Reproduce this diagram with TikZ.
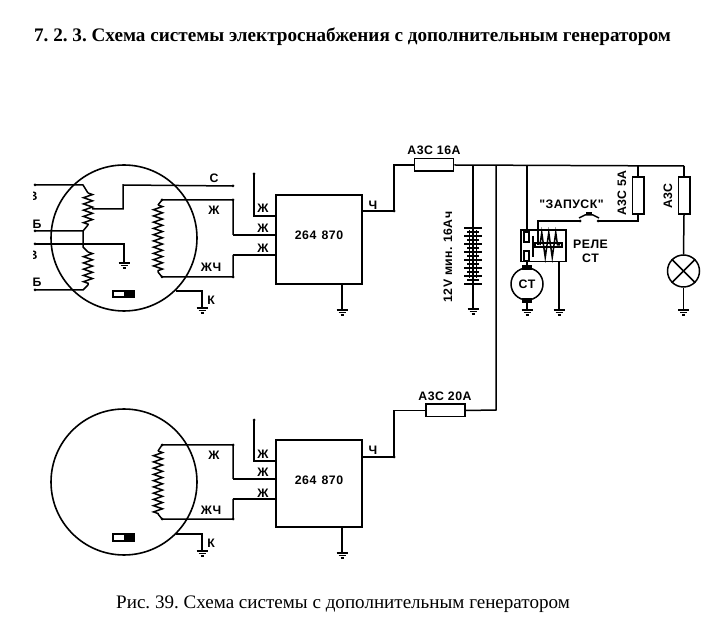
\documentclass[tikz,border=0pt]{standalone}
\usepackage{fontspec}
\setmainfont{Liberation Serif}
\newfontfamily\labelfont[LetterSpace=4]{Liberation Sans}
\usetikzlibrary{decorations.pathmorphing}
\frenchspacing

\tikzset{
wire/.style={black, line width=0.3mm},
coil/.style={wire, decorate, decoration={zigzag, amplitude=0.09cm, segment length=0.125cm}},
relay coil/.style={wire, decorate, decoration={zigzag, amplitude=0.25cm, segment length=0.14cm}},
ctrlbox/.style={draw, line width=0.32mm, minimum width=1.72cm, minimum height=1.77cm, inner sep=0},
fuseh/.style={draw, line width=0.3mm, fill=white, minimum width=0.78cm, minimum height=0.25cm, inner sep=0},
fusev/.style={draw, line width=0.3mm, fill=white, minimum width=0.23cm, minimum height=0.74cm, inner sep=0},
gencircle/.style={circle, draw, line width=0.32mm, minimum size=2.92cm, inner sep=0},
lab/.style={font=\labelfont\bfseries\fontsize{7}{8}\selectfont, inner sep=0},
}

% ground mark and terminal dot
\newcommand{\gndmark}[1]{
\draw[wire] ([xshift=-0.11cm]#1) -- ([xshift=0.11cm]#1);
\draw[wire] ([xshift=-0.07cm,yshift=-0.05cm]#1) -- ([xshift=0.07cm,yshift=-0.05cm]#1);
\draw[wire] ([xshift=-0.03cm,yshift=-0.1cm]#1) -- ([xshift=0.03cm,yshift=-0.1cm]#1);
}
\newcommand{\termdot}[1]{\fill (#1) circle (1.5);}

\begin{document}
\begin{tikzpicture}[x=0.02cm,y=-0.02cm]
\useasboundingbox (0,0) rectangle (716,644);

\node[inner sep=0, font=\bfseries\fontsize{10.9}{12}\selectfont] (title) at (352.5,36.5)
{7. 2. 3. Схема системы электроснабжения с дополнительным генератором};
\node[inner sep=0, font=\fontsize{10.85}{12}\selectfont] (caption) at (343,604.5)
{Рис. 39. Схема системы с дополнительным генератором};

% TOP %
%%%%%%%%%%%%  Main generator %%%%%%%%%%%%%
\node[gencircle] (genA) at (124,238) {};

\coordinate (a1) at (35,185);
\coordinate (a2) at (83,185);
\coordinate (a3) at (88,193);
\coordinate (a4) at (88,225);
\coordinate (a5) at (83,231);
\coordinate (a6) at (35,231);
\coordinate (a7) at (88,252);
\coordinate (a8) at (88,285);
\coordinate (a9) at (83,290);
\coordinate (a10) at (35,290);
\coordinate (a11) at (35,244);
\coordinate (a12) at (124,244);
\coordinate (a13) at (124,263);
\coordinate (tap) at (92,209);
\coordinate (tapUp) at (123,185);
\coordinate (outC) at (233,186);

\draw[wire] (a1) -- (a2) -- (a3);
\draw[coil] (a3) -- (a4);
\draw[wire] (a4) -- (a5) -- (a6);
\draw[wire] (a5) -- (83,247) -- (a7);
\draw[coil] (a7) -- (a8);
\draw[wire] (a8) -- (a9) -- (a10);
\draw[wire] (a11) -- (a12) -- (a13);
\draw[wire] (tap) -| (tapUp) -- (outC);
\foreach \p in {a1,a6,a11,a10,outC}
{\termdot{\p}}
\gndmark{a13}

% left labels, cut by the page edge
\begin{scope}
\clip (33,170) rectangle (60,300);
\node[lab] (lb1) at (33,196) {В};
\node[lab] (lb2) at (37,224) {Б};
\node[lab] (lb3) at (33,255) {В};
\node[lab] (lb4) at (37,282) {Б};
\end{scope}

% right coil
\coordinate (c1) at (162,200);
\coordinate (c2) at (158,205);
\coordinate (c3) at (158,272);
\coordinate (c4) at (162,277);
\coordinate (j1) at (233,200);
\coordinate (j2) at (233,277);
\draw[coil] (c2) -- (c3);
\draw[wire] (c2) -- (c1) -- (j1) -- (233,235) coordinate (j3);
\draw[wire] (c3) -- (c4) -- (j2) -- (233,255) coordinate (j4);
\foreach \p in {c1,c4,j1,j2}
{\termdot{\p}}

% magnet and earth
\draw[wire] (113,291) rectangle (134,297);
\fill (124,291) rectangle (134,297);
\coordinate (k1) at (176,291);
\coordinate (k2) at (202,291);
\coordinate (k3) at (202,308);
\draw[wire] (k1) -- (k2) -- (k3);
\gndmark{k3}

\node[lab] (labC) at (214,178) {С};
\node[lab] (labZ) at (214,210) {Ж};
\node[lab] (labZC) at (211,267) {ЖЧ};
\node[lab] (labK) at (211,300) {К};

%%%%%%%%%%%%  Top regulator %%%%%%%%%%%%%
\node[ctrlbox] (regA) at (319,239.5) {};
\node[lab] (regAtxt) at (319,235) {264\hspace{3pt}870};

\coordinate (r1) at (254,174);
\draw[wire] (r1) |- (regA.west |- 0,216);
\draw[wire] (j3) -- (regA.west |- j3);
\draw[wire] (j4) -- (regA.west |- j4);
\termdot{r1}
\foreach \y [count=\i] in {208,228,248}
\node[lab] (zA\i) at (263,\y) {Ж};
\node[lab] (chA) at (373,205) {Ч};

\coordinate (regAg) at (342,310);
\draw[wire] (regAg |- regA.south) -- (regAg);
\gndmark{regAg}

\coordinate (outA) at (394,211);
\node[fuseh] (fuseA) at (434,165) {};
\node[lab] (fuseAtxt) at (434,150) {А3С 16А};
\draw[wire] (regA.east |- outA) -- (outA) |- (fuseA.west);
\termdot{outA}

%%%%%%%%%%%%  Bus %%%%%%%%%%%%%
\coordinate (busEnd) at (684,166);
\coordinate (busBat) at (473,166);
\coordinate (busB) at (496,166);
\coordinate (busS) at (527,166);
\coordinate (busF) at (638,166);
\draw[wire] (fuseA.east) -- (busEnd);

% battery
\coordinate (batGnd) at (473,309);
\draw[wire] (busBat) -- (batGnd);
\gndmark{batGnd}
\foreach \y in {228,236,244,252,260,268,276,284}
{\draw[wire] (464,\y) -- (482,\y);}
\foreach \y in {232,240,248,256,264,272,280}
{\draw[wire] (467,\y) -- (479,\y);}
\draw[wire] (469.5,230) -- (469.5,278);
\draw[wire] (476.5,230) -- (476.5,278);
\node[lab, rotate=90] (batTxt) at (448,257) {12V мин. 16Ач};

%%%%%%%%%%%%  Starter %%%%%%%%%%%%%
\node[draw, wire, minimum width=0.9cm, minimum height=0.63cm, inner sep=0] (relay) at (543.5,246) {};
\node[circle, draw, wire, minimum size=0.64cm, inner sep=0, font=\labelfont\bfseries\fontsize{7}{8}\selectfont] (motor) at (527,284) {СТ};
\draw[wire] (busS) -- (527,232);
\draw[wire] (524,232) rectangle (529,242);
\draw[wire] (524,251) rectangle (529,261);
\draw[wire] (527,261) -- (motor.north);
\fill (522,265) rectangle (532,270);
\fill (522,298) rectangle (532,303);
\coordinate (motGnd) at (527,310);
\draw[wire] (motor.south) -- (motGnd);
\gndmark{motGnd}

% relay coil on the plunger
\draw[relay coil] (540,245) -- (560,245);
\draw[wire] (535,243) rectangle (562,247);
\draw[line width=0.45mm] (533,236) -- (533,257);
\coordinate (relGnd) at (559,310);
\draw[wire] (relGnd |- relay.south) -- (relGnd);
\gndmark{relGnd}

% start switch
\coordinate (swL) at (580,221);
\coordinate (swR) at (598,221);
\coordinate (swB) at (538,245);
\node[fusev] (fuseS) at (638,195.5) {};
\draw[wire] (busF) -- (fuseS.north);
\draw[wire] (fuseS.south) |- (swR);
\draw[wire] (swL) -| (swB);
\termdot{swL}
\termdot{swR}
\draw[wire] (579,218) -- (585,215) -- (593,215) -- (599,218);
\fill (586,212) rectangle (592,215);

\node[lab] (swTxt) at (571.5,204) {"ЗАПУСК"};
\node[lab, rotate=90] (fuseStxt) at (622,193) {А3С 5А};
\node[lab, align=center] (relayTxt) at (590.5,251) {РЕЛЕ\\СТ};

%%%%%%%%%%%%  Lamp %%%%%%%%%%%%%
\node[fusev] (fuseL) at (684,195.5) {};
\node[lab, rotate=90] (fuseLtxt) at (668,196) {А3С};
\node[circle, draw, wire, minimum size=0.64cm, inner sep=0] (lamp) at (683.5,271) {};
\draw[wire] (lamp.45) -- (lamp.225);
\draw[wire] (lamp.135) -- (lamp.315);
\coordinate (lampGnd) at (683.5,310);
\draw[wire] (busEnd) -- (fuseL.north);
\draw[wire] (fuseL.south) -- (lamp.north);
\draw[wire] (lamp.south) -- (lampGnd);
\gndmark{lampGnd}

% BOTTOM %
%%%%%%%%%%%%  Extra generator %%%%%%%%%%%%%
\node[gencircle] (genB) at (124,482) {};

\coordinate (d1) at (162,445);
\coordinate (d2) at (158,451);
\coordinate (d3) at (158,514);
\coordinate (d4) at (162,519);
\coordinate (e1) at (233,445);
\coordinate (e2) at (233,519);
\draw[coil] (d2) -- (d3);
\draw[wire] (d2) -- (d1) -- (e1) -- (233,479) coordinate (e3);
\draw[wire] (d3) -- (d4) -- (e2) -- (233,499) coordinate (e4);
\foreach \p in {d1,d4,e1,e2}
{\termdot{\p}}

\draw[wire] (113,534) rectangle (134,541);
\fill (124,534) rectangle (134,541);
\coordinate (m1) at (176,534);
\coordinate (m2) at (202,534);
\coordinate (m3) at (202,551);
\draw[wire] (m1) -- (m2) -- (m3);
\gndmark{m3}

\node[lab] (labZb) at (214,455) {Ж};
\node[lab] (labZCb) at (211,510) {ЖЧ};
\node[lab] (labKb) at (211,543) {К};

%%%%%%%%%%%%  Bottom regulator %%%%%%%%%%%%%
\node[ctrlbox, minimum height=1.74cm] (regB) at (319,483.5) {};
\node[lab] (regBtxt) at (319,480) {264\hspace{3pt}870};

\coordinate (s1) at (254,420);
\draw[wire] (s1) |- (regB.west |- 0,461);
\draw[wire] (e3) -- (regB.west |- e3);
\draw[wire] (e4) -- (regB.west |- e4);
\termdot{s1}
\foreach \y [count=\i] in {454,472,493}
\node[lab] (zB\i) at (263,\y) {Ж};
\node[lab] (chB) at (373,450) {Ч};

\coordinate (regBg) at (342,553);
\draw[wire] (regBg |- regB.south) -- (regBg);
\gndmark{regBg}

\coordinate (outB) at (394,457);
\coordinate (busC) at (496,410);
\node[fuseh] (fuseB) at (445.5,410.5) {};
\node[lab] (fuseBtxt) at (445,396.5) {А3С 20А};
\draw[wire] (regB.east |- outB) -- (outB) |- (fuseB.west);
\draw[wire] (fuseB.east) -- (busC) -- (busB);
\termdot{outB}

\end{tikzpicture}
\end{document}
